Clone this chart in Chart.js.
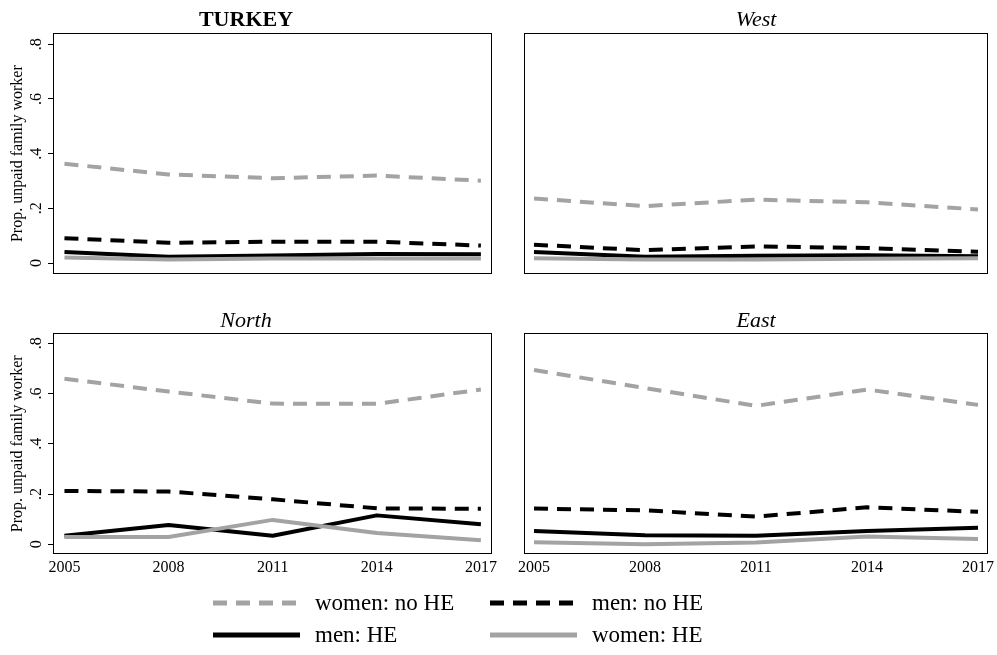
<!DOCTYPE html>
<html>
<head>
<meta charset="utf-8">
<script src="https://cdn.jsdelivr.net/npm/chart.js@4/dist/chart.umd.min.js"></script>
<style>
  html, body { margin: 0; padding: 0; background: #fff; }
  #wrap { position: relative; width: 997px; height: 655px; background: #fff; overflow: hidden; }
  .cell { position: absolute; }
  .cell canvas { display: block; }
  #legend { position: absolute; left: 0; top: 0; width: 997px; height: 655px; pointer-events: none;
            font-family: "Liberation Serif", "Times New Roman", serif; font-size: 23px; color: #000; }
  .lg { position: absolute; display: flex; align-items: center; height: 30px; }
  .lg svg { display: block; }
  .lg span { margin-left: 15px; white-space: nowrap; line-height: 30px; }
</style>
</head>
<body>
<div id="wrap">
  <div class="cell" style="left:0px;top:0px;"><canvas id="c0" width="497" height="285"></canvas></div>
  <div class="cell" style="left:497px;top:0px;"><canvas id="c1" width="500" height="285"></canvas></div>
  <div class="cell" style="left:0px;top:290px;"><canvas id="c2" width="505" height="300"></canvas></div>
  <div class="cell" style="left:497px;top:290px;"><canvas id="c3" width="500" height="300"></canvas></div>
  <div id="legend"></div>
</div>
<script>
// Survey years on the x axis
const YEARS = [2005, 2008, 2011, 2014, 2017];

// Y axis ticks and their printed labels
const Y_TICKS = [0, 0.2, 0.4, 0.6, 0.8];
const Y_TICK_LABELS = ['0', '.2', '.4', '.6', '.8'];

// Series names (legend order)
const SERIES_NAMES = ['women: no HE', 'men: no HE', 'men: HE', 'women: HE'];

// Proportion of unpaid family workers, by region
const turkeyWomenNoHE = [0.363, 0.324, 0.310, 0.320, 0.301];
const turkeyMenNoHE   = [0.091, 0.074, 0.078, 0.078, 0.064];
const turkeyMenHE     = [0.040, 0.023, 0.028, 0.033, 0.032];
const turkeyWomenHE   = [0.020, 0.013, 0.017, 0.017, 0.017];

const westWomenNoHE = [0.236, 0.208, 0.232, 0.222, 0.196];
const westMenNoHE   = [0.067, 0.047, 0.061, 0.055, 0.041];
const westMenHE     = [0.040, 0.023, 0.027, 0.029, 0.025];
const westWomenHE   = [0.018, 0.013, 0.013, 0.016, 0.018];

const northWomenNoHE = [0.659, 0.608, 0.560, 0.559, 0.616];
const northMenNoHE   = [0.212, 0.210, 0.179, 0.143, 0.141];
const northMenHE     = [0.034, 0.077, 0.034, 0.115, 0.080];
const northWomenHE   = [0.029, 0.029, 0.097, 0.045, 0.016];

const eastWomenNoHE = [0.694, 0.622, 0.551, 0.616, 0.555];
const eastMenNoHE   = [0.142, 0.135, 0.110, 0.147, 0.129];
const eastMenHE     = [0.053, 0.036, 0.034, 0.053, 0.066];
const eastWomenHE   = [0.008, 0.000, 0.007, 0.031, 0.021];

// Line styles per series (same order as SERIES_NAMES)
const GRAY = '#a3a3a3';
const BLACK = '#000000';
const SERIES_STYLE = [
  { color: GRAY,  dash: [14, 9] },
  { color: BLACK, dash: [14, 9] },
  { color: BLACK, dash: [] },
  { color: GRAY,  dash: [] }
];

const SERIF = '"Liberation Serif", "Times New Roman", serif';

// Outline of the plotting region
const boxPlugin = {
  id: 'plotBox',
  afterDatasetsDraw(chart) {
    const a = chart.chartArea;
    const ctx = chart.ctx;
    ctx.save();
    ctx.strokeStyle = '#000';
    ctx.lineWidth = 1;
    const l = Math.round(a.left) + 0.5, t = Math.round(a.top) + 0.5;
    const r = Math.round(a.right) - 0.5, b = Math.round(a.bottom) - 0.5;
    ctx.strokeRect(l, t, r - l, b - t);
    ctx.restore();
  }
};

function makePanel(canvasId, title, italic, bold, series, opt) {
  const datasets = series.map((vals, i) => ({
    label: SERIES_NAMES[i],
    data: YEARS.map((y, k) => ({ x: y, y: vals[k] })),
    borderColor: SERIES_STYLE[i].color,
    borderDash: SERIES_STYLE[i].dash,
    borderWidth: 4,
    borderCapStyle: 'butt',
    borderJoinStyle: 'round',
    pointRadius: 0,
    tension: 0,
    fill: false,
    order: series.length - i
  }));

  new Chart(document.getElementById(canvasId), {
    type: 'line',
    data: { datasets },
    plugins: [boxPlugin],
    options: {
      responsive: false,
      animation: false,
      devicePixelRatio: 1,
      layout: { padding: opt.padding },
      plugins: {
        legend: { display: false },
        tooltip: { enabled: false },
        title: {
          display: true,
          text: title,
          color: '#000',
          font: { family: SERIF, size: 22, weight: bold ? 'bold' : 'normal', style: italic ? 'italic' : 'normal', lineHeight: 1.0 },
          padding: opt.titlePadding
        }
      },
      scales: {
        x: {
          type: 'linear',
          min: opt.xMin,
          max: opt.xMax,
          display: opt.showX,
          afterBuildTicks: (s) => { s.ticks = YEARS.map(v => ({ value: v })); },
          afterFit: (s) => {
            if (opt.showX) { s.height = 24; }
            s.paddingLeft = 0;
            s.paddingRight = 0;
          },
          grid: { display: false, drawTicks: false },
          border: { display: false },
          ticks: {
            autoSkip: false,
            maxRotation: 0,
            minRotation: 0,
            padding: 4,
            color: '#000',
            font: { family: SERIF, size: 16 },
            callback: (v) => String(v)
          }
        },
        y: {
          type: 'linear',
          min: -0.04,
          max: 0.84,
          display: opt.showY,
          afterBuildTicks: (s) => { s.ticks = Y_TICKS.map(v => ({ value: v })); },
          afterFit: (s) => {
            if (opt.showY) { s.width = 53; }
            s.paddingTop = 0;
            s.paddingBottom = 0;
          },
          grid: { display: true, drawOnChartArea: false, drawTicks: true, tickLength: 5, color: '#000', lineWidth: 1 },
          border: { display: false },
          title: {
            display: true,
            text: 'Prop. unpaid family worker',
            color: '#000',
            font: { family: SERIF, size: 16, lineHeight: 1.2 },
            padding: { top: 8, bottom: 0 }
          },
          ticks: {
            autoSkip: false,
            minRotation: 90,
            maxRotation: 90,
            crossAlign: 'center',
            padding: 5,
            color: '#000',
            font: { family: SERIF, size: 16 },
            callback: (v, i) => Y_TICK_LABELS[i]
          }
        }
      }
    }
  });
}

const TOP_TITLE_PAD = { top: 9.5, bottom: 1.8 };
const BOTTOM_TITLE_PAD = { top: 19.8, bottom: 1.5 };

makePanel('c0', 'TURKEY', false, true,
  [turkeyWomenNoHE, turkeyMenNoHE, turkeyMenHE, turkeyWomenHE],
  { padding: { left: 0, right: 5, top: 0, bottom: 11 }, titlePadding: TOP_TITLE_PAD,
    xMin: 2004.67, xMax: 2017.32, showX: false, showY: true });

makePanel('c1', 'West', true, false,
  [westWomenNoHE, westMenNoHE, westMenHE, westWomenHE],
  { padding: { left: 27, right: 9, top: 0, bottom: 11 }, titlePadding: TOP_TITLE_PAD,
    xMin: 2004.73, xMax: 2017.27, showX: false, showY: false });

makePanel('c2', 'North', true, false,
  [northWomenNoHE, northMenNoHE, northMenHE, northWomenHE],
  { padding: { left: 0, right: 13, top: 0, bottom: 11.7 }, titlePadding: BOTTOM_TITLE_PAD,
    xMin: 2004.67, xMax: 2017.32, showX: true, showY: true });

makePanel('c3', 'East', true, false,
  [eastWomenNoHE, eastMenNoHE, eastMenHE, eastWomenHE],
  { padding: { left: 27, right: 9, top: 0, bottom: 11.7 }, titlePadding: BOTTOM_TITLE_PAD,
    xMin: 2004.73, xMax: 2017.27, showX: true, showY: false });

// Shared legend below the panels: two columns, two rows
const LEGEND_SLOTS = [
  { left: 213, top: 588 }, // women: no HE
  { left: 490, top: 588 }, // men: no HE
  { left: 213, top: 620 }, // men: HE
  { left: 490, top: 620 }  // women: HE
];
const legendEl = document.getElementById('legend');
SERIES_NAMES.forEach((name, i) => {
  const st = SERIES_STYLE[i];
  const item = document.createElement('div');
  item.className = 'lg';
  item.style.left = LEGEND_SLOTS[i].left + 'px';
  item.style.top = LEGEND_SLOTS[i].top + 'px';
  const dash = st.dash.length ? ` stroke-dasharray="${st.dash.join(' ')}"` : '';
  item.innerHTML = `<svg width="87" height="10"><line x1="0" y1="5" x2="87" y2="5" stroke="${st.color}" stroke-width="5"${dash}/></svg><span>${name}</span>`;
  legendEl.appendChild(item);
});
</script>
</body>
</html>
